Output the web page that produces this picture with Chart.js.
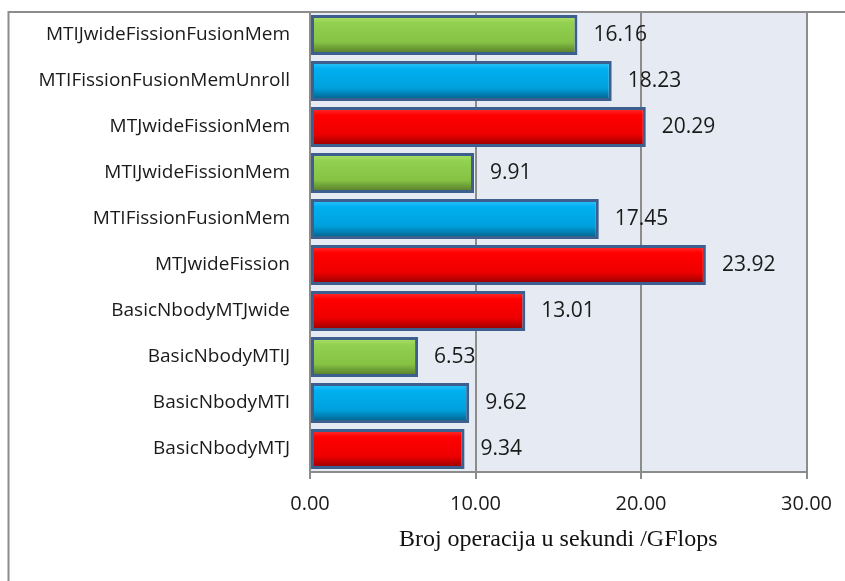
<!DOCTYPE html>
<html>
<head>
<meta charset="utf-8">
<script src="https://cdn.jsdelivr.net/npm/chart.js@4/dist/chart.umd.min.js"></script>
<style>
  body { margin: 0; background: #fff; }
  #wrap { width: 845px; height: 581px; }
</style>
</head>
<body>
<div id="wrap"><canvas id="gflops-canvas" width="845" height="581"></canvas></div>
<script>
// categories top to bottom, as in the picture
const categories = [
  "MTIJwideFissionFusionMem",
  "MTIFissionFusionMemUnroll",
  "MTJwideFissionMem",
  "MTIJwideFissionMem",
  "MTIFissionFusionMem",
  "MTJwideFission",
  "BasicNbodyMTJwide",
  "BasicNbodyMTIJ",
  "BasicNbodyMTI",
  "BasicNbodyMTJ"
];
const gflops = [16.16, 18.23, 20.29, 9.91, 17.45, 23.92, 13.01, 6.53, 9.62, 9.34];
// which colour family each bar uses
const barKind = ["green", "blue", "red", "green", "blue", "red", "red", "green", "blue", "red"];
const xTicks = [0, 10, 20, 30];
const axisTitle = "Broj operacija u sekundi /GFlops";

const palette = {
  green: ["#b0e46c", "#92d050", "#86c244", "#4f7128"],
  blue:  ["#38c6ff", "#00b0f0", "#00a0dc", "#005a80"],
  red:   ["#ff3b3b", "#ff0000", "#ee0000", "#8c0000"]
};

function bevelFill(context) {
  const chart = context.chart;
  const yScale = chart.scales.y;
  const colors = palette[barKind[context.dataIndex]];
  if (!yScale) return colors[1];
  const mid = yScale.getPixelForValue(context.dataIndex);
  if (!Number.isFinite(mid)) return colors[1];
  const half = 20;
  const g = chart.ctx.createLinearGradient(0, mid - half, 0, mid + half);
  g.addColorStop(0, colors[0]);
  g.addColorStop(0.2, colors[1]);
  g.addColorStop(0.68, colors[2]);
  g.addColorStop(1, colors[3]);
  return g;
}

// plot background + the outer frame lines
const framePlugin = {
  id: "frame",
  beforeDraw(chart) {
    const ctx = chart.ctx;
    const a = chart.chartArea;
    ctx.save();
    ctx.fillStyle = "#e6ebf3";
    ctx.fillRect(a.left, a.top, a.right - a.left, a.bottom - a.top);
    ctx.strokeStyle = "#8c8c8c";
    ctx.lineWidth = 2;
    ctx.beginPath();
    ctx.moveTo(8.5, chart.height);
    ctx.lineTo(8.5, a.top);
    ctx.lineTo(chart.width, a.top);
    ctx.stroke();
    ctx.restore();
  }
};

// value labels to the right of each bar
const labelPlugin = {
  id: "valueLabels",
  afterDatasetsDraw(chart) {
    const ctx = chart.ctx;
    const meta = chart.getDatasetMeta(0);
    ctx.save();
    ctx.font = "21px 'Open Sans'";
    ctx.fillStyle = "#1a1a1a";
    ctx.textAlign = "left";
    ctx.textBaseline = "middle";
    meta.data.forEach((bar, i) => {
      ctx.fillText(gflops[i].toFixed(2), bar.x + 16, bar.y);
    });
    ctx.restore();
  }
};

function setGflopsChart() {
  const ctx = document.getElementById("gflops-canvas");
  return new Chart(ctx, {
    type: "bar",
    data: {
      labels: categories,
      datasets: [{
        data: gflops,
        backgroundColor: bevelFill,
        borderColor: "#3c5f8f",
        borderWidth: 3,
        borderSkipped: false,
        barPercentage: 1,
        categoryPercentage: 0.87
      }]
    },
    options: {
      indexAxis: "y",
      responsive: false,
      animation: false,
      layout: { padding: { left: 10, top: 12, right: 37, bottom: 0 } },
      plugins: {
        legend: { display: false },
        tooltip: { enabled: false }
      },
      scales: {
        x: {
          min: 0,
          max: 30,
          afterBuildTicks: (scale) => { scale.ticks = xTicks.map(v => ({ value: v })); },
          afterFit: (scale) => { scale.height = 109; },
          grid: { color: "#8c8c8c", lineWidth: 2, tickLength: 7, drawTicks: true },
          border: { color: "#8c8c8c", width: 2 },
          ticks: {
            padding: 13,
            color: "#1a1a1a",
            font: { family: "'Open Sans'", size: 20 },
            callback: (v) => Number(v).toFixed(2)
          },
          title: {
            display: true,
            text: axisTitle,
            color: "#111",
            font: { family: "'Liberation Serif'", size: 24 },
            padding: { top: 4, bottom: 27 }
          }
        },
        y: {
          afterFit: (scale) => {
            scale.width = 300;
            scale.paddingTop = 0;
            scale.paddingBottom = 0;
          },
          grid: { display: false, drawTicks: false },
          border: { color: "#8c8c8c", width: 2 },
          ticks: {
            padding: 20,
            color: "#1a1a1a",
            font: { family: "'Open Sans'", size: 19 }
          }
        }
      }
    },
    plugins: [framePlugin, labelPlugin]
  });
}

var gflopsChart = setGflopsChart();
</script>
</body>
</html>
